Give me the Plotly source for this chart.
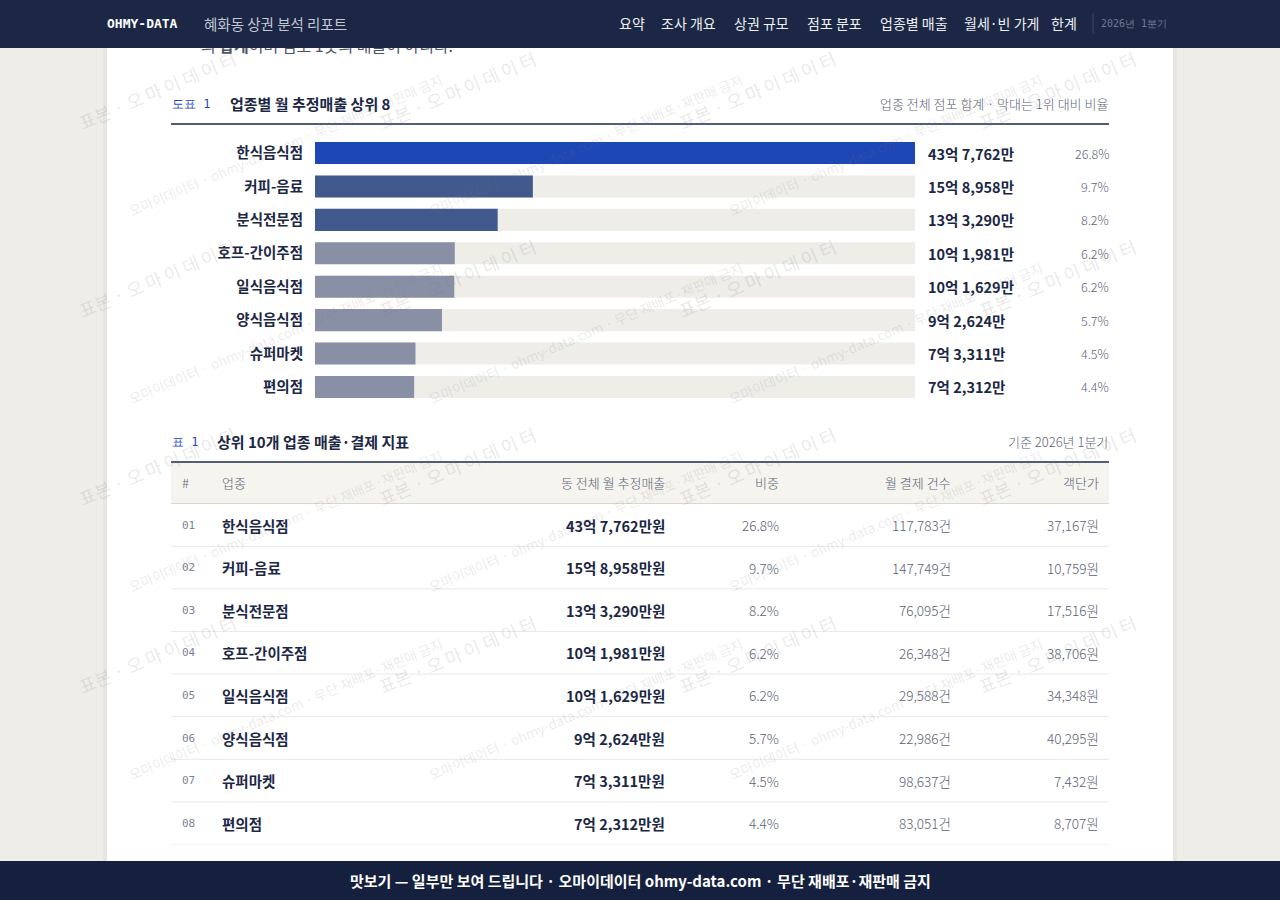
import plotly.graph_objects as go

W, H = 1280, 900

# 도표 1 / 표 1 데이터 (매출 단위: 만원)
categories = ["한식음식점", "커피-음료", "분식전문점", "호프-간이주점", "일식음식점", "양식음식점", "슈퍼마켓", "편의점"]
sales_man = [437762, 158958, 133290, 101981, 101629, 92624, 73311, 72312]
share_pct = [26.8, 9.7, 8.2, 6.2, 6.2, 5.7, 4.5, 4.4]
pay_count = [117783, 147749, 76095, 26348, 29588, 22986, 98637, 83051]
per_customer = [37167, 10759, 17516, 38706, 34348, 40295, 7432, 8707]
bar_colors = ["#1d47b5", "#42598e", "#42598e", "#8990a5", "#8990a5", "#8990a5", "#8990a5", "#8990a5"]

nav_items = ["요약", "조사 개요", "상권 규모", "점포 분포", "업종별 매출", "월세·빈 가게", "한계"]
nav_x = [618, 660, 733, 806, 879, 963, 1050]
table_cols = ["#", "업종", "동 전체 월 추정매출", "비중", "월 결제 건수", "객단가"]

KR = "Noto Sans CJK KR"
MONO = "DejaVu Sans Mono"
NAVY = "#1b2744"
GRAY = "#5c6376"


def X(px):
    return px / W


def Y(py):
    return 1 - py / H


def won(v):
    eok, man = divmod(v, 10000)
    return f"{eok}억 {man:,}만" if eok else f"{man:,}만"


fig = go.Figure()

# 막대 (배경 트랙 + 값)
fig.add_trace(go.Bar(y=categories, x=[max(sales_man)] * len(categories), orientation="h",
                     marker=dict(color="#eeede8", line_width=0), width=0.66, hoverinfo="skip"))
fig.add_trace(go.Bar(y=categories, x=sales_man, orientation="h",
                     marker=dict(color=bar_colors, line_width=0), width=0.66, hoverinfo="skip"))

# 헤더에 가려진 본문 끝줄
fig.add_trace(go.Scatter(x=[201], y=[48], mode="text", xaxis="x2", yaxis="y2",
                         text=["의 <b>합계</b>이며 점포 1곳의 매출이 아니다."], textposition="middle right",
                         textfont=dict(family=KR, size=16, color="#4d5468"), cliponaxis=False, hoverinfo="skip"))
fig.add_trace(go.Scatter(x=[0], y=[0], mode="markers", xaxis="x2", yaxis="y3",
                         marker=dict(opacity=0), hoverinfo="skip"))

shapes = []
annos = []


def rect(x0, x1, y0, y1, color, layer="below"):
    shapes.append(dict(type="rect", xref="paper", yref="paper", x0=X(x0), x1=X(x1), y0=Y(y1), y1=Y(y0),
                       fillcolor=color, line_width=0, layer=layer))


def hline(x0, x1, y, color, w=1, layer="below"):
    shapes.append(dict(type="line", xref="paper", yref="paper", x0=X(x0), x1=X(x1), y0=Y(y), y1=Y(y),
                       line=dict(color=color, width=w), layer=layer))


def text(x, y, s, size=13, color=NAVY, anchor="left", family=KR, weight=None, **kw):
    f = dict(family=family, size=size, color=color)
    if weight:
        f["weight"] = weight
    annos.append(dict(xref="paper", yref="paper", x=X(x), y=Y(y), text=s, showarrow=False,
                      xanchor=anchor, yanchor="middle", font=f, **kw))


# 카드
rect(103, 1177, 48, 900, "#e7e5df")
rect(107, 1173, 48, 900, "#ffffff")

# 도표 1 제목
text(170, 104, "도표 1", 12, "#2748b0", family=MONO)
text(228, 104, "<b>업종별 월 추정매출 상위 8</b>", 15, NAVY)
text(1110, 104, "업종 전체 점포 합계 · 막대는 1위 대비 비율", 13, GRAY, anchor="right", weight=300)
hline(171, 1109, 124, NAVY, 1.5)

# 막대 값 라벨
for c, v, p in zip(categories, sales_man, share_pct):
    annos.append(dict(xref="paper", yref="y", x=X(926), y=c, text=f"<b>{won(v)}</b>", showarrow=False,
                      xanchor="left", font=dict(family=KR, size=14.5, color=NAVY)))
    annos.append(dict(xref="paper", yref="y", x=X(1111), y=c, text=f"{p}%", showarrow=False,
                      xanchor="right", font=dict(family=KR, size=12.5, color=GRAY, weight=300)))

# 표 1
text(170, 442, "표 1", 12, "#2748b0", family=MONO)
text(215, 442, "<b>상위 10개 업종 매출·결제 지표</b>", 15, NAVY)
text(1110, 442, "기준 2026년 1분기", 13, GRAY, anchor="right", weight=300)
hline(171, 1109, 462, NAVY, 1.5)
rect(171, 1109, 463, 503, "#f5f4ef")
hline(171, 1109, 503.5, "#d9d7cf", 1)

col_x = [180, 220, 667, 781, 953, 1101]
col_anchor = ["left", "left", "right", "right", "right", "right"]
for cx, ca, name in zip(col_x, col_anchor, table_cols):
    annos.append(dict(xref="x2", yref="y3", x=cx, y=-1, text=name, showarrow=False, xanchor=ca,
                      font=dict(family=KR, size=13, color=GRAY, weight=300)))

for i, c in enumerate(categories):
    cells = [f"{i + 1:02d}", f"<b>{c}</b>", f"<b>{won(sales_man[i])}원</b>", f"{share_pct[i]}%",
             f"{pay_count[i]:,}건", f"{per_customer[i]:,}원"]
    fonts = [dict(family=MONO, size=11, color="#7c8396"), dict(family=KR, size=14.5, color=NAVY),
             dict(family=KR, size=14.5, color=NAVY)] + [dict(family=KR, size=13.5, color=GRAY, weight=300)] * 3
    for cx, ca, s, f in zip(col_x, col_anchor, cells, fonts):
        annos.append(dict(xref="x2", yref="y3", x=cx, y=i, text=s, showarrow=False, xanchor=ca, font=f))
    shapes.append(dict(type="line", xref="x2", yref="y3", x0=171, x1=1109, y0=i + 0.5, y1=i + 0.5,
                       line=dict(color="#ebe9e3", width=1), layer="below"))

# 워터마크
for k in range(5):
    for j in range(5):
        cx, cy = 157 + 300 * j, 90 + 188 * k
        if 60 < cy < 830 and cx < 1200:
            text(cx, cy, "표본 · 오\u2009마\u2009이\u2009데\u2009이\u2009터", 18, "rgba(120,120,120,0.17)",
                 anchor="center", textangle=-23)
        lx, ly = cx + 128, cy + 55
        if 60 < ly < 790 and lx < 1120:
            text(lx, ly, "오마이데이터 · ohmy-data.com · 무단 재배포·재판매 금지", 13.5, "rgba(120,120,120,0.16)",
                 anchor="center", textangle=-23)

# 상단 바
rect(0, W, 0, 48, "#1b2744", layer="above")
text(105, 23, "<b>OHMY-DATA</b>", 13, "#ffffff", family=MONO)
text(202, 23, "혜화동 상권 분석 리포트", 14.5, "#c3c8d4")
for nx, item in zip(nav_x, nav_items):
    text(nx - 1, 23, item, 14, "#eef0f5")
shapes.append(dict(type="line", xref="paper", yref="paper", x0=X(1093), x1=X(1093), y0=Y(34), y1=Y(13),
                   line=dict(color="#3b4664", width=1), layer="above"))
text(1099, 23, "2026년 1분기", 10, "#6f7a96", family=MONO)

# 하단 바
rect(0, W, 861, H, "#14203e", layer="above")
text(640, 880, "<b>맛보기 — 일부만 보여 드립니다 · 오마이데이터 ohmy-data.com · 무단 재배포·재판매 금지</b>",
     15, "#ffffff", anchor="center")

fig.update_layout(
    width=W, height=H, margin=dict(l=0, r=0, t=0, b=0),
    paper_bgcolor="#efede8", plot_bgcolor="rgba(0,0,0,0)",
    showlegend=False, barmode="overlay", font=dict(family=KR),
    shapes=shapes, annotations=annos,
    xaxis=dict(domain=[X(315), X(915)], range=[0, max(sales_man)], visible=False, fixedrange=True),
    yaxis=dict(domain=[Y(403.7), Y(136.3)], autorange="reversed", showgrid=False, zeroline=False,
               showline=False, ticks="", ticklabelstandoff=11,
               tickfont=dict(family=KR, size=14.5, color=NAVY, weight="bold")),
    xaxis2=dict(domain=[0, 1], range=[0, W], visible=False, anchor="y2"),
    yaxis2=dict(domain=[0, 1], range=[H, 0], visible=False, anchor="x2"),
    yaxis3=dict(domain=[Y(844.5), Y(461.1)], range=[7.5, -1.5], visible=False, anchor="x2"),
)

fig.write_html("out.html", config={"displayModeBar": False},
               post_script="document.body.style.margin='0';document.body.style.overflow='hidden';")
